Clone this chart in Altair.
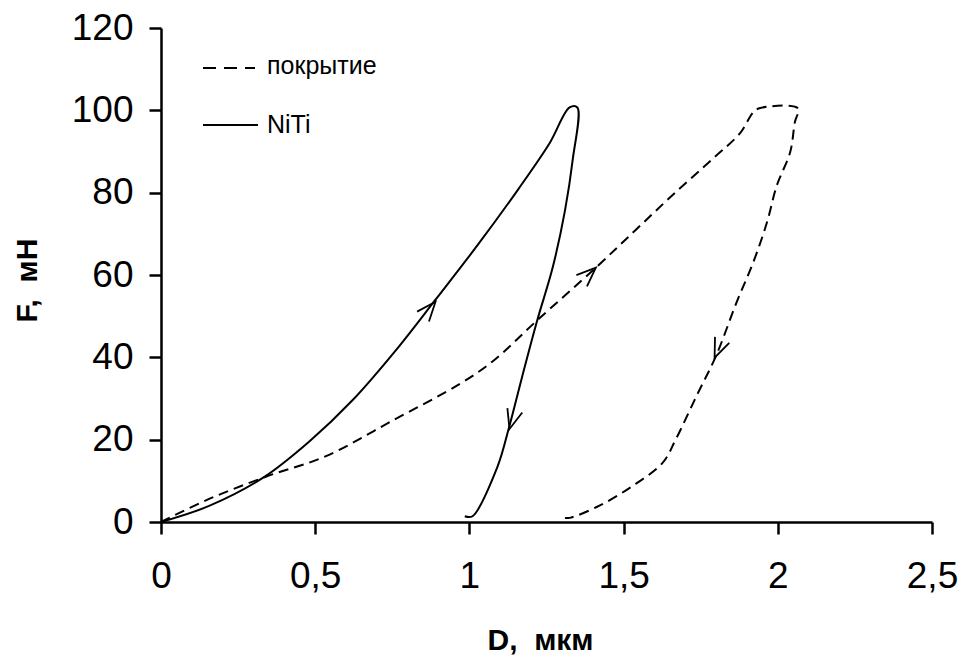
import altair as alt
import pandas as pd

# NiTi (solid): loading, flat top, unloading
niti_x = [0.0, 0.156, 0.33, 0.48, 0.62, 0.77, 0.89, 1.03, 1.16, 1.26, 1.325, 1.35,
          1.335, 1.31, 1.27, 1.22, 1.17, 1.13, 1.09, 1.01, 0.985]
niti_y = [0.0, 3.9, 10.7, 19.5, 29.5, 42.5, 54.0, 67.6, 81.0, 92.0, 100.7, 100.7,
          88.0, 75.7, 61.8, 49.0, 35.0, 23.4, 13.2, 1.4, 1.4]

# coating (dashed): loading, flat top, unloading
coat_x = [0.0, 0.156, 0.34, 0.535, 0.75, 0.97, 1.075, 1.22, 1.41, 1.54, 1.66, 1.79, 1.877, 1.92, 1.94,
          2.065, 2.055, 2.04, 1.997, 1.965, 1.92, 1.866, 1.80, 1.737, 1.67, 1.627, 1.53, 1.42, 1.325, 1.31]
coat_y = [0.0, 5.6, 11.0, 16.0, 24.6, 33.6, 39.0, 49.0, 61.8, 71.0, 79.5, 88.3, 94.4, 99.5, 100.5,
          100.5, 97.0, 89.8, 81.8, 72.8, 63.0, 53.3, 40.4, 30.7, 20.2, 14.4, 8.8, 3.9, 1.0, 1.0]

# direction arrows (tip position, direction clockwise from up)
arrow_x = [0.89, 1.13, 1.41, 1.795]
arrow_y = [53.5, 22.6, 61.8, 39.9]
arrow_angle = [40, 196, 47, 203]

legend_labels = ["покрытие", "NiTi"]
x_ticks = [0, 0.5, 1, 1.5, 2, 2.5]
y_ticks = [0, 20, 40, 60, 80, 100, 120]

niti = pd.DataFrame({"D": niti_x, "F": niti_y, "o": range(len(niti_x))})
coat = pd.DataFrame({"D": coat_x, "F": coat_y, "o": range(len(coat_x))})
arrows = pd.DataFrame({"D": arrow_x, "F": arrow_y, "a": arrow_angle})

FONT = "Liberation Sans"
NB = "\u00a0"
xscale = alt.Scale(domain=[0, 2.5], nice=False)
yscale = alt.Scale(domain=[0, 120], nice=False)

xaxis = alt.Axis(values=x_ticks, labelExpr="replace(format(datum.value, ''), '.', ',')",
                 title="D," + NB + NB + "мкм", grid=False, tickSize=12, tickWidth=2.5, domainWidth=2.5,
                 domainColor="black", tickColor="black", labelFontSize=37, labelColor="black",
                 labelFont=FONT, labelPadding=24, titleFont=FONT,
                 titleFontSize=30, titleFontWeight="bold", titleColor="black",
                 titleX=379, titleY=103, titleAlign="center", titleBaseline="top",
                 labelFlush=False, labelOverlap=False)
yaxis = alt.Axis(values=y_ticks, title="F," + NB + NB + "мН", grid=False,
                 tickSize=12, tickWidth=2.5, domainWidth=2.5, domainColor="black", tickColor="black",
                 labelFontSize=37, labelColor="black", labelFont=FONT,
                 labelPadding=16, titleFont=FONT, titleFontSize=30,
                 titleFontWeight="bold", titleColor="black", titleX=-134, titleY=252,
                 titleAngle=-90, titleAlign="center", titleBaseline="middle",
                 labelFlush=False, labelOverlap=False)

X = alt.X("D:Q", scale=xscale, axis=xaxis)
Y = alt.Y("F:Q", scale=yscale, axis=yaxis)

line_coat = alt.Chart(coat).mark_line(
    color="black", strokeWidth=2, strokeDash=[10, 6], interpolate="catmull-rom"
).encode(x=X, y=Y, order="o:Q")
line_niti = alt.Chart(niti).mark_line(
    color="black", strokeWidth=2, interpolate="catmull-rom"
).encode(x=X, y=Y, order="o:Q")
arrow_marks = alt.Chart(arrows).mark_point(
    shape="M-0.4,1L0,0L0.4,1", filled=False, color="black", strokeWidth=1.8, size=1500, opacity=1
).encode(
    x=X, y=Y,
    angle=alt.Angle("a:Q", scale=None),
)

one = pd.DataFrame({"k": [0]})
leg_dash = alt.Chart(one).mark_rule(color="black", strokeWidth=2, strokeDash=[13, 8]).encode(
    x=alt.value(42), x2=alt.value(94), y=alt.value(40))
leg_solid = alt.Chart(one).mark_rule(color="black", strokeWidth=2).encode(
    x=alt.value(42), x2=alt.value(97), y=alt.value(97))
leg_text1 = alt.Chart(pd.DataFrame({"t": [legend_labels[0]]})).mark_text(
    align="left", baseline="middle", fontSize=25, font=FONT, color="black"
).encode(x=alt.value(106), y=alt.value(38), text="t:N")
leg_text2 = alt.Chart(pd.DataFrame({"t": [legend_labels[1]]})).mark_text(
    align="left", baseline="middle", fontSize=25, font=FONT, color="black"
).encode(x=alt.value(106), y=alt.value(97), text="t:N")

chart = alt.layer(line_coat, line_niti, arrow_marks, leg_dash, leg_solid, leg_text1, leg_text2).properties(
    width=771, height=494,
    padding={"left": 161, "top": 28, "right": 31, "bottom": 138},
    autosize=alt.AutoSizeParams(type="none"),
    background="white",
).configure_view(stroke=None)

chart.save("out.html", embed_options={"renderer": "svg", "actions": False})
